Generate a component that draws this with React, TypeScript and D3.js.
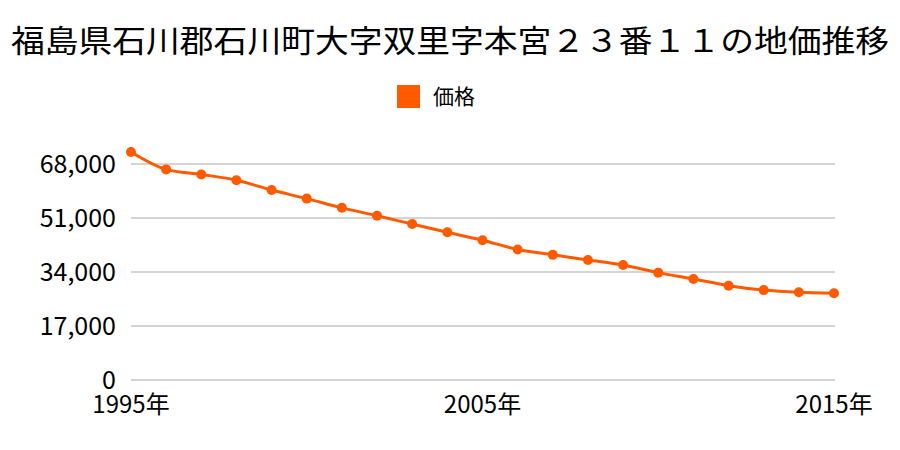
import React from "react";
import * as d3 from "d3";

const years = [1995,1996,1997,1998,1999,2000,2001,2002,2003,2004,2005,2006,2007,2008,2009,2010,2011,2012,2013,2014,2015];
const prices = [71800,66300,64700,62900,59800,57100,54200,51700,49100,46500,44000,41100,39400,37800,36200,33800,31800,29700,28300,27600,27300];
const yTicks = [0,17000,34000,51000,68000];
const xTickYears = [1995,2005,2015];
const title = "福島県石川郡石川町大字双里字本宮２３番１１の地価推移";
const seriesName = "価格";

export default function App() {
  const W = 900, H = 450;
  const x = d3.scaleLinear().domain([1995, 2015]).range([131, 834]);
  const y = d3.scaleLinear().domain([0, 68000]).range([380, 164]);
  const line = d3.line<number>().x((_, i) => x(years[i])).y(d => y(d)).curve(d3.curveMonotoneX);
  const color = "#ff5a00";
  const font = "'Noto Sans CJK JP', 'Noto Sans', sans-serif";
  return (
    <svg width={W} height={H} style={{ position: "absolute", left: 0, top: 0, fontFamily: font }}>
      <rect width={W} height={H} fill="#fff" />
      <text x={450} y={52} textAnchor="middle" fontSize={31} textLength={878} lengthAdjust="spacingAndGlyphs" fill="#000">{title}</text>
      <rect x={397} y={85} width={23} height={23} fill={color} />
      <text x={433} y={104} fontSize={21} fill="#000">{seriesName}</text>
      {yTicks.map(t => (
        <g key={t}>
          <line x1={131} x2={835} y1={y(t)} y2={y(t)} stroke="#aaa" strokeWidth={1} />
          <text x={116} y={y(t) + 9} textAnchor="end" fontSize={25} fill="#000">{d3.format(",")(t)}</text>
        </g>
      ))}
      {xTickYears.map(t => (
        <text key={t} x={x(t)} y={413} textAnchor="middle" fontSize={24} fill="#000">{t + "年"}</text>
      ))}
      <path d={line(prices) || ""} fill="none" stroke={color} strokeWidth={3} />
      {prices.map((p, i) => (
        <circle key={i} cx={x(years[i])} cy={y(p)} r={5} fill={color} />
      ))}
    </svg>
  );
}
